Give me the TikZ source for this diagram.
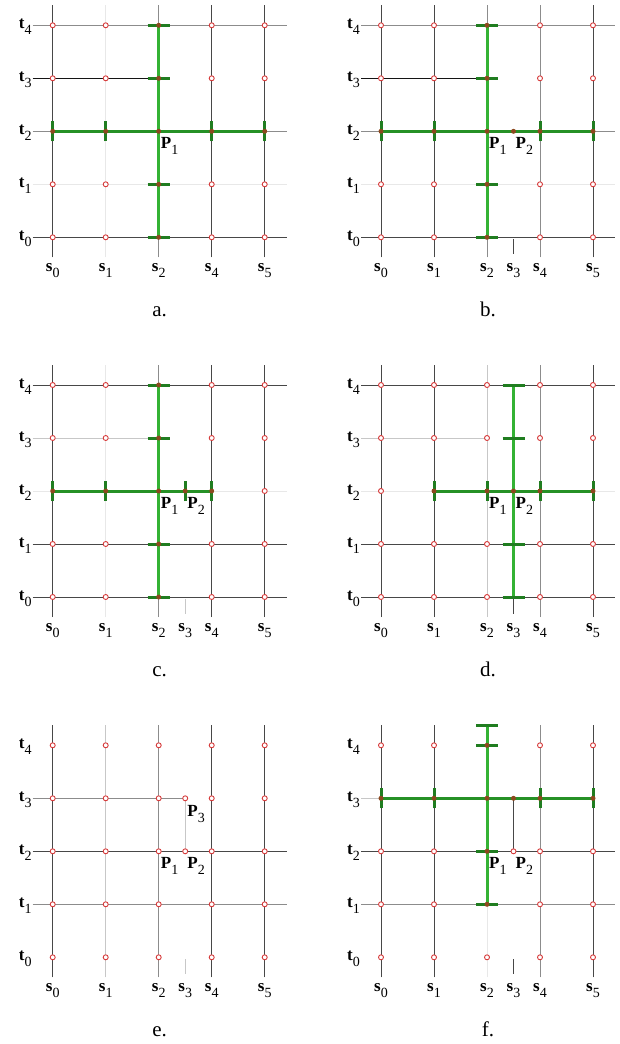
\documentclass[tikz,border=0pt]{standalone}
\usepackage{fontspec}
\setmainfont{Liberation Serif}
\definecolor{gV}{RGB}{52,178,52}
\definecolor{gH}{RGB}{38,145,38}
\definecolor{gT}{RGB}{32,125,32}
\definecolor{rP}{RGB}{215,60,60}
\definecolor{bP}{RGB}{140,72,30}
\newcommand\sublab[2]{\textbf{#1}\raisebox{-6pt}{\fontsize{14}{14}\selectfont #2}}
\begin{document}
\begin{tikzpicture}[x=1pt,y=-1pt,
  blk/.style={line width=0.9pt,draw=black!92},
  dk/.style={line width=0.9pt,draw=black!72},
  md/.style={line width=0.9pt,draw=black!45},
  lt/.style={line width=0.9pt,draw=black!22},
  vlt/.style={line width=0.9pt,draw=black!9},
  gv/.style={line width=3pt,draw=gV},
  gh/.style={line width=3pt,draw=gH},
  gtick/.style={line width=3pt,draw=gT},
  rpt/.style={line width=0.9pt,draw=rP,fill=white},
  bpt/.style={fill=bP},
  lab/.style={inner sep=0pt,font=\fontsize{17}{17}\selectfont},
  captxt/.style={inner sep=0pt,font=\fontsize{21}{21}\selectfont}]
\useasboundingbox (0,0) rectangle (619,1044);
\fill[white] (0,0) rectangle (619,1044);

% ---------- panel a ----------
\begin{scope}[shift={(52.7,237.3)}]
\draw[dk] (0,20)--(0,-232); \draw[vlt] (53,20)--(53,-232); \draw[md] (106,20)--(106,-232);
\draw[dk] (159,20)--(159,-232); \draw[dk] (212,20)--(212,-232);
\draw[md] (-20,-212)--(234,-212); \draw[blk] (-20,-159)--(106,-159);
\draw[md] (-20,-106)--(234,-106); \draw[vlt] (-20,-53)--(234,-53); \draw[dk] (-20,0)--(234,0);
\draw[gv] (106,0)--(106,-212); \draw[gh] (0,-106)--(212,-106);
\foreach \y in {0,-53,-159,-212} \draw[gtick] (95,\y)--(117,\y);
\foreach \x in {0,53,159,212} \draw[gtick] (\x,-96)--(\x,-116);
\foreach \x in {0,53,159,212} \foreach \y in {0,-53,-159,-212} \draw[rpt] (\x,\y) circle[radius=2.5pt];
\foreach \y in {0,-53,-106,-159,-212} \fill[bpt] (106,\y) circle[radius=2.5pt];
\foreach \x in {0,53,159,212} \fill[bpt] (\x,-106) circle[radius=2.5pt];
\node[lab,anchor=north west] (aP1) at (108,-100) {\sublab{P}{1}};
\foreach \x/\n in {0/0,53/1,106/2,159/4,212/5} \node[lab,anchor=base] (as\n) at (\x,34) {\sublab{s}{\n}};
\foreach \y/\n in {0/0,-53/1,-106/2,-159/3,-212/4} \node[lab,anchor=base east] (at\n) at (-21,\y+3) {\sublab{t}{\n}};
\node[captxt,anchor=base] (acap) at (107,79) {a.};
\end{scope}

% ---------- panel b ----------
\begin{scope}[shift={(381,237.3)}]
\draw[dk] (0,20)--(0,-232); \draw[dk] (53,20)--(53,-232); \draw[md] (106,20)--(106,-232);
\draw[dk] (132.5,2)--(132.5,17);
\draw[md] (159,20)--(159,-232); \draw[dk] (212,20)--(212,-232);
\draw[md] (-20,-212)--(234,-212); \draw[blk] (-20,-159)--(106,-159);
\draw[md] (-20,-106)--(234,-106); \draw[vlt] (-20,-53)--(234,-53); \draw[dk] (-20,0)--(234,0);
\draw[gv] (106,0)--(106,-212); \draw[gh] (0,-106)--(212,-106);
\foreach \y in {0,-53,-159,-212} \draw[gtick] (95,\y)--(117,\y);
\foreach \x in {0,53,159,212} \draw[gtick] (\x,-96)--(\x,-116);
\foreach \x in {0,53,159,212} \foreach \y in {0,-53,-159,-212} \draw[rpt] (\x,\y) circle[radius=2.5pt];
\foreach \y in {0,-53,-106,-159,-212} \fill[bpt] (106,\y) circle[radius=2.5pt];
\foreach \x in {0,53,132.5,159,212} \fill[bpt] (\x,-106) circle[radius=2.5pt];
\node[lab,anchor=north west] (bP1) at (108,-100) {\sublab{P}{1}};
\node[lab,anchor=north west] (bP2) at (134.5,-100) {\sublab{P}{2}};
\foreach \x/\n in {0/0,53/1,106/2,132.5/3,159/4,212/5} \node[lab,anchor=base] (bs\n) at (\x,34) {\sublab{s}{\n}};
\foreach \y/\n in {0/0,-53/1,-106/2,-159/3,-212/4} \node[lab,anchor=base east] (bt\n) at (-21,\y+3) {\sublab{t}{\n}};
\node[captxt,anchor=base] (bcap) at (107,79) {b.};
\end{scope}

% ---------- panel c ----------
\begin{scope}[shift={(52.7,597)}]
\draw[dk] (0,20)--(0,-232); \draw[vlt] (53,20)--(53,-232); \draw[md] (106,20)--(106,-232);
\draw[lt] (132.5,2)--(132.5,17);
\draw[dk] (159,20)--(159,-232); \draw[dk] (212,20)--(212,-232);
\draw[dk] (-20,-212)--(234,-212); \draw[lt] (-20,-159)--(106,-159);
\draw[vlt] (-20,-106)--(234,-106); \draw[dk] (-20,-53)--(234,-53); \draw[dk] (-20,0)--(234,0);
\draw[gv] (106,0)--(106,-212); \draw[gh] (0,-106)--(159,-106);
\foreach \y in {0,-53,-159,-212} \draw[gtick] (95,\y)--(117,\y);
\foreach \x in {0,53,132.5,159} \draw[gtick] (\x,-96)--(\x,-116);
\foreach \x in {0,53,159,212} \foreach \y in {0,-53,-159,-212} \draw[rpt] (\x,\y) circle[radius=2.5pt];
\draw[rpt] (212,-106) circle[radius=2.5pt];
\foreach \y in {0,-53,-106,-159,-212} \fill[bpt] (106,\y) circle[radius=2.5pt];
\foreach \x in {0,53,132.5,159} \fill[bpt] (\x,-106) circle[radius=2.5pt];
\node[lab,anchor=north west] (cP1) at (108,-100) {\sublab{P}{1}};
\node[lab,anchor=north west] (cP2) at (134.5,-100) {\sublab{P}{2}};
\foreach \x/\n in {0/0,53/1,106/2,132.5/3,159/4,212/5} \node[lab,anchor=base] (cs\n) at (\x,34) {\sublab{s}{\n}};
\foreach \y/\n in {0/0,-53/1,-106/2,-159/3,-212/4} \node[lab,anchor=base east] (ct\n) at (-21,\y+3) {\sublab{t}{\n}};
\node[captxt,anchor=base] (ccap) at (107,79) {c.};
\end{scope}

% ---------- panel d ----------
\begin{scope}[shift={(381,597)}]
\draw[dk] (0,20)--(0,-232); \draw[dk] (53,20)--(53,-232); \draw[lt] (106,20)--(106,-232);
\draw[dk] (132.5,2)--(132.5,17);
\draw[md] (159,20)--(159,-232); \draw[dk] (212,20)--(212,-232);
\draw[dk] (-20,-212)--(234,-212); \draw[lt] (-20,-159)--(106,-159);
\draw[vlt] (-20,-106)--(234,-106); \draw[dk] (-20,-53)--(234,-53); \draw[dk] (-20,0)--(234,0);
\draw[gv] (132.5,0)--(132.5,-212); \draw[gh] (53,-106)--(212,-106);
\foreach \y in {0,-53,-159,-212} \draw[gtick] (121.5,\y)--(143.5,\y);
\foreach \x in {53,106,159,212} \draw[gtick] (\x,-96)--(\x,-116);
\foreach \x in {0,53,106,159,212} \foreach \y in {0,-53,-159,-212} \draw[rpt] (\x,\y) circle[radius=2.5pt];
\draw[rpt] (0,-106) circle[radius=2.5pt];
\foreach \x in {53,106,132.5,159,212} \fill[bpt] (\x,-106) circle[radius=2.5pt];
\node[lab,anchor=north west] (dP1) at (108,-100) {\sublab{P}{1}};
\node[lab,anchor=north west] (dP2) at (134.5,-100) {\sublab{P}{2}};
\foreach \x/\n in {0/0,53/1,106/2,132.5/3,159/4,212/5} \node[lab,anchor=base] (ds\n) at (\x,34) {\sublab{s}{\n}};
\foreach \y/\n in {0/0,-53/1,-106/2,-159/3,-212/4} \node[lab,anchor=base east] (dt\n) at (-21,\y+3) {\sublab{t}{\n}};
\node[captxt,anchor=base] (dcap) at (107,79) {d.};
\end{scope}

% ---------- panel e ----------
\begin{scope}[shift={(52.7,957.3)}]
\draw[dk] (0,20)--(0,-232); \draw[lt] (53,20)--(53,-232); \draw[md] (106,20)--(106,-232);
\draw[lt] (132.5,-159)--(132.5,-106); \draw[lt] (132.5,2)--(132.5,17);
\draw[dk] (159,20)--(159,-232); \draw[dk] (212,20)--(212,-232);
\draw[md] (-20,-159)--(132.5,-159);
\draw[dk] (-20,-106)--(234,-106); \draw[md] (-20,-53)--(234,-53);
\foreach \x in {0,53,106,159,212} \foreach \y in {0,-53,-106,-159,-212} \draw[rpt] (\x,\y) circle[radius=2.5pt];
\draw[rpt] (132.5,-106) circle[radius=2.5pt];
\draw[rpt] (132.5,-159) circle[radius=2.5pt];
\node[lab,anchor=north west] (eP1) at (108,-100) {\sublab{P}{1}};
\node[lab,anchor=north west] (eP2) at (134.5,-100) {\sublab{P}{2}};
\node[lab,anchor=north west] (eP3) at (134.5,-152) {\sublab{P}{3}};
\foreach \x/\n in {0/0,53/1,106/2,132.5/3,159/4,212/5} \node[lab,anchor=base] (es\n) at (\x,34) {\sublab{s}{\n}};
\foreach \y/\n in {0/0,-53/1,-106/2,-159/3,-212/4} \node[lab,anchor=base east] (et\n) at (-21,\y+3) {\sublab{t}{\n}};
\node[captxt,anchor=base] (ecap) at (107,79) {e.};
\end{scope}

% ---------- panel f ----------
\begin{scope}[shift={(381,957.3)}]
\draw[dk] (0,20)--(0,-232); \draw[dk] (53,20)--(53,-232); \draw[vlt] (106,20)--(106,-53);
\draw[dk] (132.5,-159)--(132.5,-106); \draw[dk] (132.5,2)--(132.5,17);
\draw[md] (159,20)--(159,-232); \draw[dk] (212,20)--(212,-232);
\draw[lt] (-20,-159)--(0,-159);
\draw[dk] (-20,-106)--(234,-106); \draw[md] (-20,-53)--(234,-53);
\draw[gv] (106,-53)--(106,-232); \draw[gh] (0,-159)--(212,-159);
\foreach \y in {-53,-106,-212,-232} \draw[gtick] (95,\y)--(117,\y);
\foreach \x in {0,53,159,212} \draw[gtick] (\x,-149)--(\x,-169);
\foreach \x in {0,53,159,212} \foreach \y in {0,-53,-106,-212} \draw[rpt] (\x,\y) circle[radius=2.5pt];
\draw[rpt] (106,0) circle[radius=2.5pt];
\draw[rpt] (132.5,-106) circle[radius=2.5pt];
\foreach \y in {-53,-106,-159,-212} \fill[bpt] (106,\y) circle[radius=2.5pt];
\foreach \x in {0,53,132.5,159,212} \fill[bpt] (\x,-159) circle[radius=2.5pt];
\node[lab,anchor=north west] (fP1) at (108,-100) {\sublab{P}{1}};
\node[lab,anchor=north west] (fP2) at (134.5,-100) {\sublab{P}{2}};
\foreach \x/\n in {0/0,53/1,106/2,132.5/3,159/4,212/5} \node[lab,anchor=base] (fs\n) at (\x,34) {\sublab{s}{\n}};
\foreach \y/\n in {0/0,-53/1,-106/2,-159/3,-212/4} \node[lab,anchor=base east] (ft\n) at (-21,\y+3) {\sublab{t}{\n}};
\node[captxt,anchor=base] (fcap) at (107,79) {f.};
\end{scope}
\end{tikzpicture}
\end{document}
